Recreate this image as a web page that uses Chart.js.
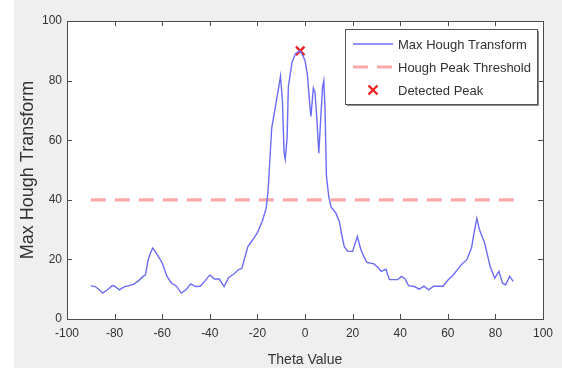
<!DOCTYPE html>
<html>
<head>
<meta charset="utf-8">
<script src="https://cdn.jsdelivr.net/npm/chart.js@4/dist/chart.umd.min.js"></script>
<style>
html,body{margin:0;padding:0;background:#fff;}
#wrap{position:absolute;left:0;top:0;width:562px;height:371px;}
</style>
</head>
<body>
<div id="wrap"><canvas id="c" width="562" height="371"></canvas></div>
<script>
// ---- data ----
const theta = [-90,-88,-86,-85,-83,-81,-80,-78,-76,-74,-72,-70,-68,-67,-66,-65,-64,-63,-62,-60,-58,-56,-54,-52,-50,-48,-46,-44,-42,-40,-38,-36,-34,-32,-30,-28,-26.5,-25.5,-24,-22,-20,-18,-16.3,-15.5,-15,-14,-12.5,-11,-10.3,-9.5,-8.8,-8.3,-7.5,-7,-6.5,-5.5,-4,-2,-1,0,1,2,2.5,3.5,4.2,5,5.8,6.8,7.4,7.9,8.4,9,10,11,13,14.5,15.5,16.5,18,20,22,23.5,25,26,29,31,32,34,35.5,37,39,40.5,42,43.5,46,48,50,52,54,56,58,60,62,64,66,68,70,71,72.2,73.3,75.5,77.8,79.7,81.5,83,84.3,86,87.5];
const houghMax = [11.2,10.8,9.5,8.7,9.8,11.2,11,9.8,10.8,11.2,11.6,12.8,14.3,14.8,19.5,22,23.8,22.8,21.5,18.8,14.3,12,11,8.7,9.8,11.8,10.9,11,12.8,14.8,13.4,13.4,10.9,14,15,16.5,17,20,24.3,26.5,29,32.7,37.2,43,50,64,71,78,81.5,73.4,56,53.6,61,78,80.5,86,89,90,88.5,86.8,82,72,68,77.5,76,67,55.6,70,78,80,71,48,41,37.5,35.5,32.5,28,24.3,22.7,22.7,27.7,23.2,20.5,19,18.5,17,16,16.7,13.2,13.2,13.2,14.3,13.5,11.2,10.9,10,11,9.8,11,11,11,13,14.5,16.5,18.5,19.9,24,28.8,33.8,30,25.4,17.6,13.7,16,12,11.5,14.3,12.6];
const thresholdTheta = [-90, 88];
const thresholdValue = [40, 40];
const peakTheta = [-2];
const peakValue = [90];
const xTicks = [-100,-80,-60,-40,-20,0,20,40,60,80,100];
const yTicks = [0,20,40,60,80,100];
const seriesLabels = ['Max Hough Transform','Hough Peak Threshold','Detected Peak'];

const FONT = '"Liberation Sans", Arial, sans-serif';

const bgPlugin = {
  id:'bg',
  beforeDraw(chart){
    const ctx = chart.ctx, a = chart.chartArea;
    ctx.save();
    ctx.fillStyle = '#ffffff';
    ctx.fillRect(0,0,chart.width,chart.height);
    ctx.fillStyle = '#efefef';
    ctx.fillRect(14,0,chart.width-14,368);
    ctx.fillStyle = '#ffffff';
    ctx.fillRect(a.left,a.top,a.right-a.left,a.bottom-a.top);
    ctx.restore();
  }
};

const boxPlugin = {
  id:'box',
  afterDatasetsDraw(chart){
    const ctx = chart.ctx, a = chart.chartArea;
    const xs = chart.scales.x, ys = chart.scales.y;
    ctx.save();
    ctx.strokeStyle = '#4a4a4a';
    ctx.lineWidth = 1;
    ctx.strokeRect(Math.round(a.left)+0.5, Math.round(a.top)+0.5, Math.round(a.right-a.left), Math.round(a.bottom-a.top));
    ctx.beginPath();
    const tl = 5;
    xTicks.forEach(v=>{
      const px = Math.round(xs.getPixelForValue(v))+0.5;
      ctx.moveTo(px,a.bottom); ctx.lineTo(px,a.bottom-tl);
      ctx.moveTo(px,a.top); ctx.lineTo(px,a.top+tl);
    });
    yTicks.forEach(v=>{
      const py = Math.round(ys.getPixelForValue(v))+0.5;
      ctx.moveTo(a.left,py); ctx.lineTo(a.left+tl,py);
      ctx.moveTo(a.right,py); ctx.lineTo(a.right-tl,py);
    });
    ctx.stroke();
    ctx.restore();
  },
  afterDraw(chart){
    // legend box (MATLAB-style, inside axes, top right)
    const ctx = chart.ctx;
    const ds = chart.data.datasets;
    const bx = 345, by = 29, bw = 192, bh = 75;
    ctx.save();
    ctx.fillStyle = '#ffffff';
    ctx.fillRect(bx,by,bw,bh);
    ctx.strokeStyle = '#555';
    ctx.lineWidth = 1;
    ctx.strokeRect(bx+0.5,by+0.5,bw,bh);
    ctx.strokeStyle = '#888';
    ctx.beginPath();
    ctx.moveTo(bx+bw+1.5,by+2); ctx.lineTo(bx+bw+1.5,by+bh+1.5); ctx.lineTo(bx+2,by+bh+1.5);
    ctx.stroke();
    const rows = [44,67,90];
    ctx.font = '13px ' + FONT;
    ctx.textBaseline = 'middle';
    ctx.fillStyle = '#333';
    ctx.strokeStyle = ds[0].borderColor; ctx.lineWidth = ds[0].borderWidth; ctx.setLineDash([]);
    ctx.beginPath(); ctx.moveTo(353,rows[0]); ctx.lineTo(393,rows[0]); ctx.stroke();
    ctx.strokeStyle = ds[1].borderColor; ctx.lineWidth = ds[1].borderWidth; ctx.setLineDash(ds[1].borderDash);
    ctx.beginPath(); ctx.moveTo(353,rows[1]); ctx.lineTo(393,rows[1]); ctx.stroke();
    ctx.setLineDash([]);
    ctx.strokeStyle = ds[2].borderColor; ctx.lineWidth = ds[2].borderWidth;
    const mx = 373, my = rows[2], r = 4.5;
    ctx.beginPath(); ctx.moveTo(mx-r,my-r); ctx.lineTo(mx+r,my+r); ctx.moveTo(mx+r,my-r); ctx.lineTo(mx-r,my+r); ctx.stroke();
    ctx.fillStyle = '#333';
    seriesLabels.forEach((t,i)=>ctx.fillText(t,398,rows[i]+1));
    ctx.restore();
  }
};

new Chart(document.getElementById('c'), {
  type:'line',
  data:{
    datasets:[
      {label:seriesLabels[0], data:theta.map((t,i)=>({x:t,y:houghMax[i]})), borderColor:'#6c6cf6', borderWidth:1.4, pointRadius:0, tension:0, fill:false},
      {label:seriesLabels[1], data:thresholdTheta.map((t,i)=>({x:t,y:thresholdValue[i]})), borderColor:'#f8aaaa', borderWidth:3.2, borderDash:[15,9], pointRadius:0, fill:false},
      {label:seriesLabels[2], type:'scatter', data:peakTheta.map((t,i)=>({x:t,y:peakValue[i]})), pointStyle:'crossRot', pointRadius:6, borderColor:'#ee2020', backgroundColor:'#ee2020', borderWidth:2.4}
    ]
  },
  options:{
    responsive:false, animation:false, devicePixelRatio:1,
    layout:{padding:{left:17,right:19,top:21,bottom:0}},
    plugins:{legend:{display:false}, tooltip:{enabled:false}},
    scales:{
      x:{type:'linear', min:-100, max:100,
        afterBuildTicks(s){ s.ticks = xTicks.map(v=>({value:v})); },
        afterFit(s){ s.height = 52; },
        grid:{display:false, drawTicks:false}, border:{display:false},
        ticks:{color:'#333', font:{family:FONT,size:12}, padding:7, maxRotation:0, autoSkip:false},
        title:{display:true, text:'Theta Value', color:'#333', font:{family:FONT,size:14}, padding:{top:4,bottom:2}}
      },
      y:{min:0, max:100,
        afterBuildTicks(s){ s.ticks = yTicks.map(v=>({value:v})); },
        afterFit(s){ s.width = 50; },
        grid:{display:false, drawTicks:false}, border:{display:false},
        ticks:{color:'#333', font:{family:FONT,size:12}, padding:5},
        title:{display:true, text:'Max Hough Transform', color:'#333', font:{family:FONT,size:18}, padding:{top:0,bottom:8}}
      }
    }
  },
  plugins:[bgPlugin, boxPlugin]
});
</script>
</body>
</html>
